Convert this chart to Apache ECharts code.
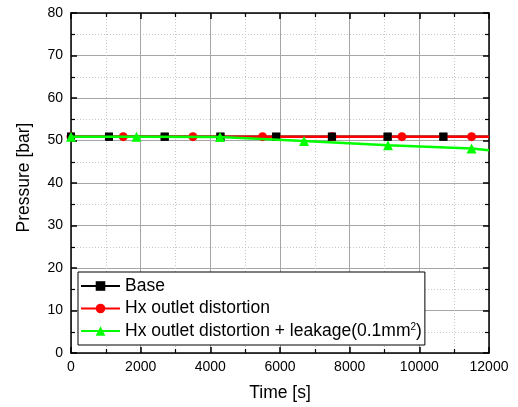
<!DOCTYPE html>
<html>
<head>
<meta charset="utf-8">
<script src="https://cdn.jsdelivr.net/npm/echarts@6/dist/echarts.min.js"></script>
<style>html,body{margin:0;padding:0;background:#fff}#c{width:518px;height:407px}</style>
</head>
<body>
<div id="c"></div>
<script>
// ---- data ----
var seriesNames = ['Base', 'Hx outlet distortion', 'Hx outlet distortion + leakage(0.1mm2)'];
var baseTime = [0, 1090, 2690, 4290, 5890, 7490, 9090, 10690, 12000];
var basePressure = [50.9, 50.9, 50.9, 50.9, 50.9, 50.9, 50.9, 50.9, 50.9];
var hxTime = [0, 1500, 3500, 5500, 7500, 9500, 11500, 12000];
var hxPressure = [50.9, 50.9, 50.9, 50.9, 50.9, 50.9, 50.9, 50.9];
var leakTime = [0, 1880, 4280, 6690, 9100, 11500, 12000];
var leakPressure = [50.9, 50.9, 50.8, 49.9, 48.9, 48.1, 47.7];
var xTicks = [0, 2000, 4000, 6000, 8000, 10000, 12000];
var yTicks = [0, 10, 20, 30, 40, 50, 60, 70, 80];

function pts(t, v) {
  return t.map(function (x, i) {
    var d = { value: [x, v[i]] };
    if (i === t.length - 1) d.symbol = 'none';
    return d;
  });
}

var FONT = 'Liberation Sans, Arial, sans-serif';
var chart = echarts.init(document.getElementById('c'), null, { renderer: 'canvas' });

var majorGrid = { show: true, lineStyle: { color: '#a6a6a6', width: 1, type: 'solid' } };
var minorGrid = { show: true, lineStyle: { color: '#c8c8c8', width: 1, type: [1, 2] } };
var axLine = { show: true, onZero: false, lineStyle: { color: '#000', width: 1.5 } };

function xAx(pos, labels) {
  return {
    type: 'value', position: pos, min: xTicks[0], max: xTicks[xTicks.length - 1], interval: 2000,
    axisLine: axLine,
    axisTick: { show: true, inside: true, length: 6, lineStyle: { color: '#000', width: 1.5 } },
    minorTick: { show: true, splitNumber: 2, length: 4, lineStyle: { color: '#000', width: 1.2 } },
    axisLabel: { show: labels, margin: 7, color: '#000', fontSize: 14, fontFamily: FONT,
      formatter: function (v) { return String(v); } },
    splitLine: labels ? majorGrid : { show: false },
    minorSplitLine: labels ? minorGrid : { show: false },
    name: labels ? 'Time [s]' : '', nameLocation: 'middle', nameGap: 31,
    nameTextStyle: { color: '#000', fontSize: 17.5, fontFamily: FONT }
  };
}
function yAx(pos, labels) {
  return {
    type: 'value', position: pos, min: yTicks[0], max: yTicks[yTicks.length - 1], interval: 10,
    axisLine: axLine,
    axisTick: { show: true, inside: true, length: 6, lineStyle: { color: '#000', width: 1.5 } },
    minorTick: { show: true, splitNumber: 2, length: 4, lineStyle: { color: '#000', width: 1.2 } },
    axisLabel: { show: labels, margin: 8, color: '#000', fontSize: 14, fontFamily: FONT },
    splitLine: labels ? majorGrid : { show: false },
    minorSplitLine: labels ? minorGrid : { show: false },
    name: labels ? 'Pressure [bar]' : '', nameLocation: 'middle', nameGap: 38,
    nameTextStyle: { color: '#000', fontSize: 17.5, fontFamily: FONT, padding: [0, 0, 0, 11] }
  };
}

var option = {
  animation: false,
  backgroundColor: '#fff',
  grid: { left: 71, right: 29, top: 13, bottom: 54 },
  xAxis: [xAx('bottom', true), xAx('top', false)],
  yAxis: [yAx('left', true), yAx('right', false)],
  legend: {
    orient: 'vertical', left: 78, top: 272,
    padding: [5, 3, 5, 2], itemGap: 4.5, itemWidth: 39, itemHeight: 12,
    backgroundColor: '#fff', borderColor: '#000', borderWidth: 1, borderRadius: 0,
    data: seriesNames,
    formatter: function (n) { return n.replace('mm2)', 'mm{sup|2}{n|)}'); },
    textStyle: {
      color: '#000', fontSize: 17.5, fontFamily: FONT, lineHeight: 17.5,
      rich: {
        sup: { fontSize: 10, verticalAlign: 'top', padding: [0, 0, 8, 0], color: '#000', fontFamily: FONT },
        n: { fontSize: 17.5, color: '#000', fontFamily: FONT }
      }
    }
  },
  series: [
    {
      name: seriesNames[0], type: 'line', data: pts(baseTime, basePressure),
      color: '#000', symbol: 'rect', symbolSize: 8, showAllSymbol: true,
      lineStyle: { color: '#000', width: 2.5 }, itemStyle: { color: '#000' }, z: 2
    },
    {
      name: seriesNames[1], type: 'line', data: pts(hxTime, hxPressure),
      color: '#ff0000', symbol: 'circle', symbolSize: 9, showAllSymbol: true,
      lineStyle: { color: '#ff0000', width: 2.5 }, itemStyle: { color: '#ff0000' }, z: 3
    },
    {
      name: seriesNames[0], type: 'line', data: pts(baseTime, basePressure),
      symbol: 'rect', symbolSize: 8, showAllSymbol: true, legendHoverLink: false,
      lineStyle: { opacity: 0 }, itemStyle: { color: '#000' }, z: 4
    },
    {
      name: seriesNames[2], type: 'line', data: pts(leakTime, leakPressure),
      color: '#00ff00', symbol: 'triangle', symbolSize: 10, showAllSymbol: true,
      lineStyle: { color: '#00ff00', width: 2.5 }, itemStyle: { color: '#00ff00' }, z: 5
    }
  ]
};
chart.setOption(option);
</script>
</body>
</html>
